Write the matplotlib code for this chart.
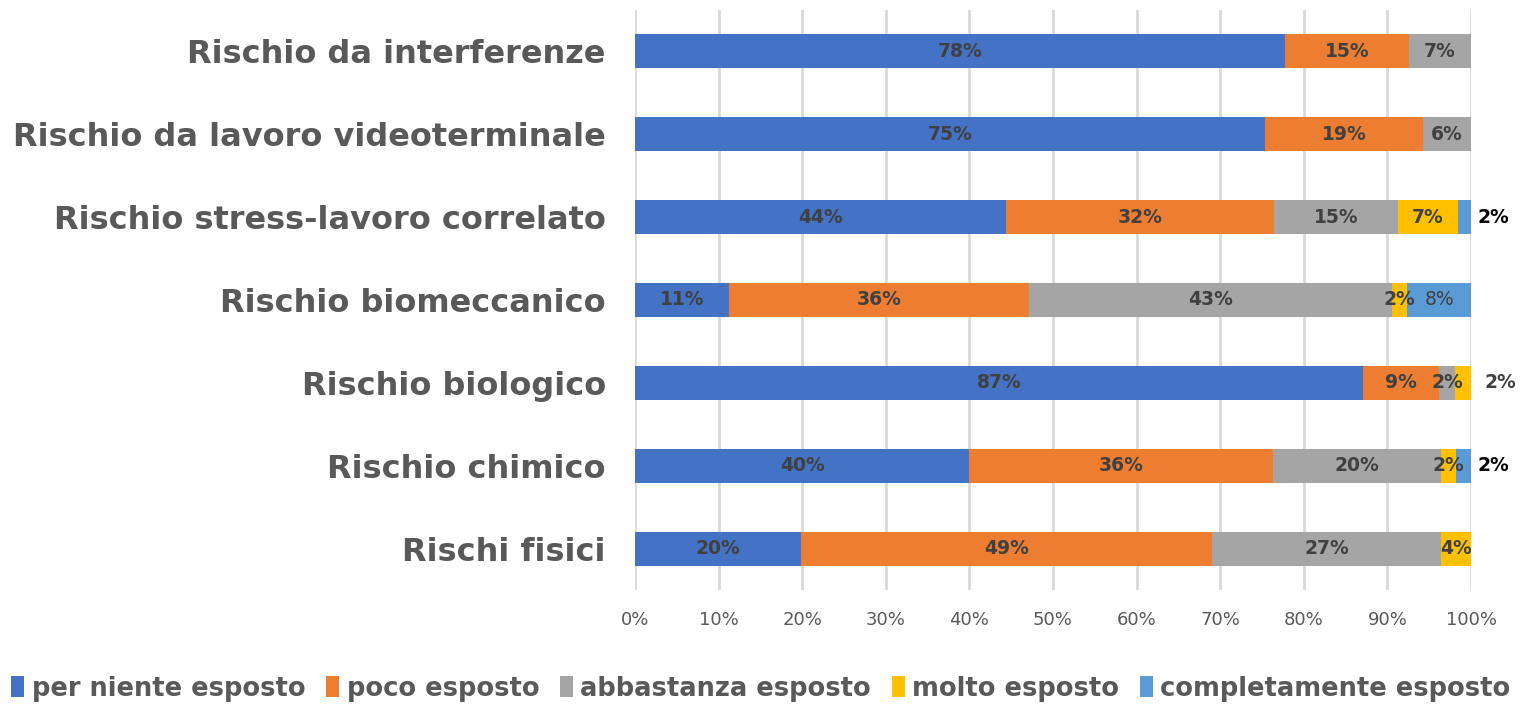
import matplotlib.pyplot as plt
import numpy as np

# categories from bottom to top
categories = ["Rischi fisici", "Rischio chimico", "Rischio biologico",
              "Rischio biomeccanico", "Rischio stress-lavoro correlato",
              "Rischio da lavoro videoterminale", "Rischio da interferenze"]

per_niente = [19.9, 40.0, 87.1, 11.2, 44.4, 75.4, 77.8]
poco = [49.1, 36.3, 9.1, 35.9, 32.0, 18.9, 14.8]
abbastanza = [27.4, 20.1, 1.9, 43.4, 14.9, 5.7, 7.4]
molto = [3.6, 1.8, 1.9, 1.9, 7.1, 0.0, 0.0]
completamente = [0.0, 1.8, 0.0, 7.6, 1.6, 0.0, 0.0]

series_names = ["per niente esposto", "poco esposto", "abbastanza esposto",
                "molto esposto", "completamente esposto"]
colors = ["#4472C4", "#ED7D31", "#A5A5A5", "#FFC000", "#5B9BD5"]

# labels drawn outside the bar: (row, series) -> (x, colour)
outside = {(4, 4): (102.7, "black"), (1, 4): (102.7, "black"),
           (2, 3): (103.5, "#404040")}

fig = plt.figure(figsize=(15.22, 7.05), dpi=100)
ax = fig.add_axes([0.4172, 0.163, 0.5493, 0.823])

data = [per_niente, poco, abbastanza, molto, completamente]
y = np.arange(len(categories))
left = np.zeros(len(categories))
for s, (vals, name, col) in enumerate(zip(data, series_names, colors)):
    vals = np.array(vals)
    ax.barh(y, vals, left=left, height=0.41, color=col, label=name, zorder=3)
    for i, v in enumerate(vals):
        if v <= 0:
            continue
        txt = f"{round(v)}%"
        if (i, s) in outside:
            xx, c = outside[(i, s)]
            ax.text(xx, i, txt, ha="center", va="center", fontsize=13.5,
                    fontweight="bold", color=c, zorder=4)
        else:
            weight = "normal" if (i, s) == (3, 4) else "bold"
            ax.text(left[i] + v / 2, i, txt, ha="center", va="center",
                    fontsize=13.5, fontweight=weight, color="#404040", zorder=4)
    left += vals

ax.set_xlim(0, 100)
ax.set_ylim(-0.5, len(categories) - 0.5)
ax.set_xticks(np.arange(0, 101, 10))
ax.set_xticklabels([f"{t}%" for t in range(0, 101, 10)])
ax.set_yticks(y)
ax.set_yticklabels(categories)
ax.tick_params(axis="y", length=0, pad=21, labelsize=23, labelcolor="#595959")
ax.tick_params(axis="x", length=0, pad=15, labelsize=13, labelcolor="#595959")
for lab in ax.get_yticklabels():
    lab.set_fontweight("bold")
ax.grid(axis="x", color="#D9D9D9", linewidth=2, zorder=0)
for sp in ax.spines.values():
    sp.set_visible(False)

fig.legend(loc="lower center", bbox_to_anchor=(0.5, -0.028), ncol=5,
           frameon=False, prop={"size": 18.5, "weight": "bold"},
           handlelength=0.5, handleheight=0.9, handletextpad=0.3,
           columnspacing=0.8, labelcolor="#595959")

fig.savefig("out.png", dpi=100)
